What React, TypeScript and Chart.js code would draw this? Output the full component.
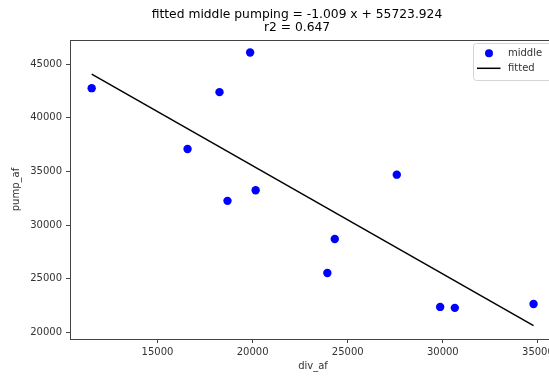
import React, { useEffect, useRef } from 'react';
import { Chart, registerables } from 'chart.js';
Chart.register(...registerables);

const divAf = [11540, 16580, 18260, 18680, 19870, 20160, 23930, 24320, 27580, 29860, 30630, 34770];
const pumpAf = [42770, 37100, 42400, 32270, 46090, 33260, 25550, 28710, 34710, 22390, 22300, 22660];
const fittedX = [11540, 34770];
const fittedY = [44080, 20640];
const xTicks = [15000, 20000, 25000, 30000, 35000];
const yTicks = [20000, 25000, 30000, 35000, 40000, 45000];
const titleLines = ['fitted middle pumping = -1.009 x + 55723.924', 'r2 = 0.647'];
const seriesNames = ['middle', 'fitted'];

const FONT = 'DejaVu Sans';
const TEXT = '#333';
const SPINE = '#444';

const framePlugin = {
  id: 'frame',
  afterDraw(chart: any) {
    const { ctx, chartArea: a } = chart;
    ctx.save();
    ctx.strokeStyle = SPINE;
    ctx.lineWidth = 1;
    ctx.strokeRect(Math.round(a.left) + 0.5, Math.round(a.top) + 0.5, Math.round(a.right - a.left), Math.round(a.bottom - a.top));
    // legend
    const x0 = 473.5, y0 = 43.5, w = 85, h = 37, r = 3;
    ctx.beginPath();
    ctx.moveTo(x0 + r, y0);
    ctx.lineTo(x0 + w - r, y0);
    ctx.arcTo(x0 + w, y0, x0 + w, y0 + r, r);
    ctx.lineTo(x0 + w, y0 + h - r);
    ctx.arcTo(x0 + w, y0 + h, x0 + w - r, y0 + h, r);
    ctx.lineTo(x0 + r, y0 + h);
    ctx.arcTo(x0, y0 + h, x0, y0 + h - r, r);
    ctx.lineTo(x0, y0 + r);
    ctx.arcTo(x0, y0, x0 + r, y0, r);
    ctx.closePath();
    ctx.fillStyle = 'rgba(255,255,255,0.8)';
    ctx.fill();
    ctx.strokeStyle = '#d4d4d4';
    ctx.stroke();
    const ds = chart.data.datasets;
    ctx.fillStyle = ds[0].backgroundColor;
    ctx.beginPath();
    ctx.arc(489, 53.3, 4, 0, Math.PI * 2);
    ctx.fill();
    ctx.strokeStyle = ds[1].borderColor;
    ctx.lineWidth = 1.5;
    ctx.beginPath();
    ctx.moveTo(477, 68.3);
    ctx.lineTo(500.5, 68.3);
    ctx.stroke();
    ctx.fillStyle = TEXT;
    ctx.font = `10px "${FONT}"`;
    ctx.textBaseline = 'middle';
    ctx.textAlign = 'left';
    ctx.fillText(ds[0].label, 508, 53.3);
    ctx.fillText(ds[1].label, 508, 68.3);
    ctx.restore();
  },
};

export default function App() {
  const ref = useRef<HTMLCanvasElement>(null);
  useEffect(() => {
    if (!ref.current) return;
    const chart = new Chart(ref.current, {
      type: 'scatter',
      data: {
        datasets: [
          {
            label: seriesNames[0],
            data: divAf.map((x, i) => ({ x, y: pumpAf[i] })),
            backgroundColor: '#0000ff',
            borderColor: '#0000ff',
            pointRadius: 4.2,
            pointBorderWidth: 0,
            showLine: false,
          },
          {
            label: seriesNames[1],
            data: fittedX.map((x, i) => ({ x, y: fittedY[i] })),
            borderColor: '#000000',
            backgroundColor: '#000000',
            borderWidth: 1.5,
            pointRadius: 0,
            showLine: true,
          },
        ],
      },
      options: {
        animation: false,
        responsive: false,
        layout: { padding: 0 },
        plugins: {
          legend: { display: false },
          tooltip: { enabled: false },
          title: {
            display: true,
            text: titleLines,
            color: '#000',
            font: { family: FONT, size: 12.3, weight: 'normal', lineHeight: 1.06 },
            padding: { top: 8, bottom: 6 },
          },
        },
        scales: {
          x: {
            type: 'linear',
            min: 10400,
            max: 35950,
            afterBuildTicks: (s: any) => { s.ticks = xTicks.map((v) => ({ value: v })); },
            afterFit: (s: any) => { s.height = 37; },
            ticks: {
              color: TEXT,
              font: { family: FONT, size: 10 },
              padding: 3,
              maxRotation: 0,
              autoSkip: false,
              callback: (v: any) => String(v),
            },
            grid: { drawOnChartArea: false, drawTicks: true, tickLength: 4, color: SPINE },
            border: { display: false },
            title: {
              display: true,
              text: 'div_af',
              color: TEXT,
              font: { family: FONT, size: 10 },
              padding: { top: 0, bottom: 3.5 },
            },
          },
          y: {
            type: 'linear',
            min: 19400,
            max: 47250,
            afterBuildTicks: (s: any) => { s.ticks = yTicks.map((v) => ({ value: v })); },
            afterFit: (s: any) => { s.width = 70; },
            ticks: {
              color: TEXT,
              font: { family: FONT, size: 10 },
              padding: 4,
              autoSkip: false,
              callback: (v: any) => String(v),
            },
            grid: { drawOnChartArea: false, drawTicks: true, tickLength: 4, color: SPINE },
            border: { display: false },
            title: {
              display: true,
              text: 'pump_af',
              color: TEXT,
              font: { family: FONT, size: 10 },
              padding: { top: 10.5, bottom: 0 },
            },
          },
          y2: {
            type: 'linear',
            position: 'right',
            display: true,
            afterFit: (s: any) => { s.width = 38; },
            ticks: { display: false },
            grid: { display: false },
            border: { display: false },
          },
        },
      },
      plugins: [framePlugin],
    } as any);
    return () => chart.destroy();
  }, []);
  return (
    <div style={{ position: 'fixed', left: 0, top: 0, width: 549, height: 376, overflow: 'hidden', background: '#fff' }}>
      <canvas ref={ref} width={594} height={376} style={{ width: 594, height: 376, display: 'block' }} />
    </div>
  );
}
